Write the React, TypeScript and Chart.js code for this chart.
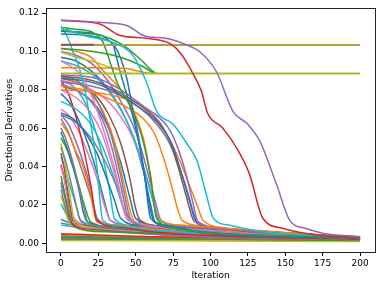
import React, { useEffect, useRef } from "react";
import { Chart, registerables } from "chart.js";
Chart.register(...registerables);

type P = [number, number][];

const xTicks = [0, 25, 50, 75, 100, 125, 150, 175, 200];
const yTicks = [0, 0.02, 0.04, 0.06, 0.08, 0.1, 0.12];

const C = {
  blue: "#1f77b4", orange: "#ff7f0e", green: "#2ca02c", red: "#d62728", purple: "#9467bd",
  brown: "#8c564b", pink: "#e377c2", gray: "#7f7f7f", olive: "#bcbd22", cyan: "#17becf",
};

// special, clearly visible lines
const purpleTop: P = [[0,0.1164],[25,0.1152],[44,0.1135],[56,0.108],[70,0.1068],[82,0.104],[93,0.0997],[104,0.0894],[115,0.0688],[125,0.062],[133,0.0533],[144,0.031],[153,0.012],[164,0.0077],[175,0.0053],[200,0.0034]];
const redTop: P = [[0,0.1161],[26,0.1143],[39,0.1084],[57,0.1068],[73,0.104],[80,0.099],[88,0.0888],[94,0.0791],[98,0.0679],[108,0.0602],[118,0.049],[126,0.0362],[135,0.0131],[148,0.0079],[170,0.0045],[200,0.0031]];
const oliveHigh: P = [[0,0.1033],[200,0.1033]];
const oliveLow: P = [[0,0.0885],[200,0.0885]];
const brownHigh: P = [[0,0.1035],[22,0.1034]];
const cyanTop: P = [[0,0.1126],[15,0.1084],[37,0.104],[48,0.098],[57,0.0843],[64,0.0688],[75,0.062],[85,0.051],[91,0.043],[97,0.026],[102,0.013],[113,0.0094],[135,0.006],[200,0.0034]];
const greenSteep: P = [[0,0.1125],[10,0.1115],[21,0.11],[28,0.105],[33,0.094],[38,0.083],[48,0.0688],[55,0.053],[60,0.034],[64,0.013],[75,0.008],[100,0.0055],[200,0.003]];
const greenMergeA: P = [[0,0.111],[15,0.1095],[26,0.1085],[40,0.104],[50,0.098],[55,0.0945],[60,0.0905],[64,0.0885]];
const greenMergeB: P = [[0,0.1015],[20,0.1001],[35,0.098],[45,0.0955],[55,0.092],[62,0.0885]];
const orangeMerge: P = [[0,0.0915],[20,0.0915],[40,0.0912],[46,0.0908],[50,0.09],[53,0.0895],[58,0.0888],[62,0.0885]];
const oliveMerge: P = [[0,0.0997],[10,0.097],[22,0.0946],[35,0.0911],[42,0.0893],[46,0.0885]];
const blueSteepA: P = [[0,0.1105],[10,0.1102],[21,0.1095],[28,0.108],[33,0.105],[37,0.1014],[41,0.094],[44,0.086],[48,0.07],[52,0.055],[56,0.035],[60,0.013],[70,0.0095],[90,0.0065],[200,0.003]];
const blueSteepB: P = [[0,0.109],[15,0.1085],[30,0.106],[35,0.103],[39,0.091],[44,0.0775],[50,0.06],[55,0.04],[59,0.02],[62,0.012],[75,0.008],[100,0.005],[200,0.0027]];
const cyanFast: P = [[0,0.113],[4,0.108],[8,0.1],[12,0.092],[16,0.08],[20,0.062],[24,0.04],[28,0.012],[40,0.009],[60,0.007],[200,0.0025]];
const pinkA: P = [[0,0.095],[5,0.093],[13,0.088],[20,0.078],[26,0.065],[32,0.05],[38,0.032],[43,0.015],[50,0.011],[70,0.008],[200,0.003]];
const orangeHighA: P = [[0,0.1015],[10,0.1],[20,0.097],[28,0.09],[37,0.0826],[48,0.07],[55,0.055],[60,0.035],[64,0.014],[80,0.0095],[200,0.003]];

// right cluster
const rcPurple: P = [[0,0.0875],[15,0.087],[26,0.0855],[40,0.08],[48,0.0757],[55,0.0715],[66,0.0653],[72,0.06],[78,0.05],[84,0.035],[88,0.022],[92,0.0105],[110,0.0075],[140,0.005],[200,0.003]];
const rcBlue: P = [[0,0.086],[20,0.084],[35,0.0795],[48,0.073],[58,0.0675],[66,0.062],[74,0.052],[80,0.038],[86,0.022],[90,0.012],[105,0.008],[140,0.005],[200,0.003]];
const rcBrown: P = [[0,0.087],[20,0.085],[35,0.0805],[48,0.0745],[58,0.069],[66,0.063],[73,0.053],[79,0.038],[84,0.024],[89,0.0115],[105,0.008],[200,0.003]];
const rcOrange: P = [[0,0.082],[15,0.08],[30,0.076],[45,0.0705],[55,0.065],[62,0.058],[68,0.046],[74,0.03],[78,0.018],[81,0.012],[95,0.009],[120,0.006],[200,0.003]];
const rcOrangeB: P = [[0,0.08],[20,0.079],[40,0.076],[53,0.072],[63,0.064],[72,0.055],[80,0.042],[86,0.03],[91,0.02],[95,0.012],[110,0.008],[200,0.003]];
const rcPurpleB: P = [[0,0.084],[20,0.082],[40,0.077],[53,0.0705],[63,0.063],[72,0.053],[79,0.04],[85,0.026],[89,0.015],[92,0.011],[110,0.0078],[200,0.0032]];

// middle cluster (knee ~45-50)
const mGray: P = [[0,0.088],[10,0.085],[20,0.079],[28,0.068],[34,0.055],[40,0.035],[44,0.02],[47,0.012],[60,0.009],[90,0.006],[200,0.003]];
const mOrange: P = [[0,0.087],[10,0.084],[20,0.078],[28,0.069],[35,0.055],[41,0.035],[46,0.018],[49,0.0115],[65,0.0085],[100,0.0055],[200,0.0028]];
const mPurple: P = [[0,0.083],[10,0.08],[20,0.074],[28,0.064],[34,0.05],[40,0.03],[45,0.014],[55,0.01],[80,0.007],[200,0.003]];
const mBlue: P = [[0,0.068],[8,0.065],[16,0.058],[24,0.047],[30,0.035],[36,0.022],[40,0.013],[55,0.009],[200,0.0028]];
const mPink: P = [[0,0.08],[10,0.076],[20,0.068],[27,0.058],[33,0.044],[39,0.027],[44,0.013],[60,0.009],[200,0.003]];
const mCyan: P = [[0,0.074],[10,0.07],[20,0.062],[28,0.05],[35,0.035],[41,0.02],[45,0.012],[60,0.0088],[200,0.0028]];
const mGrayB: P = [[0,0.067],[10,0.063],[20,0.055],[30,0.042],[38,0.028],[44,0.014],[50,0.011],[70,0.008],[200,0.003]];
const mBrown: P = [[0,0.086],[10,0.084],[22,0.078],[32,0.067],[40,0.052],[46,0.034],[50,0.018],[53,0.012],[70,0.0088],[200,0.003]];
const mBlueB: P = [[0,0.082],[12,0.079],[24,0.071],[33,0.058],[40,0.042],[46,0.024],[50,0.013],[65,0.0092],[200,0.0029]];

// cluster with knee ~60-68
const nCyan: P = [[0,0.095],[12,0.092],[24,0.086],[35,0.076],[45,0.062],[52,0.048],[58,0.032],[63,0.018],[66,0.0115],[90,0.008],[200,0.003]];
const nPink: P = [[0,0.085],[15,0.082],[30,0.075],[40,0.066],[48,0.055],[55,0.04],[61,0.025],[65,0.013],[80,0.0095],[200,0.003]];
const nPurple: P = [[0,0.1],[10,0.098],[20,0.094],[30,0.086],[40,0.074],[50,0.058],[57,0.04],[63,0.022],[67,0.012],[85,0.0085],[200,0.003]];
const nBlue: P = [[0,0.097],[10,0.095],[20,0.09],[30,0.082],[40,0.07],[48,0.056],[55,0.038],[60,0.02],[63,0.011],[80,0.0085],[200,0.003]];

// left cluster (fast drops)
const fRed: P = [[0,0.085],[5,0.078],[10,0.066],[15,0.05],[20,0.03],[24,0.012],[35,0.009],[60,0.006],[200,0.002]];
const fOrange: P = [[0,0.0628],[5,0.057],[10,0.048],[15,0.0395],[20,0.025],[24,0.0111],[40,0.0095],[60,0.0078],[93,0.0053],[200,0.0025]];
const fPurple: P = [[0,0.067],[5,0.062],[10,0.053],[15,0.042],[20,0.028],[24,0.013],[35,0.0095],[200,0.0025]];
const fGray: P = [[0,0.06],[3,0.055],[7,0.045],[11,0.033],[15,0.02],[18,0.011],[30,0.0085],[200,0.0025]];
const fBlue: P = [[0,0.058],[4,0.05],[8,0.04],[12,0.028],[15,0.016],[18,0.011],[40,0.0078],[200,0.0024]];
const fGrayB: P = [[0,0.05],[3,0.043],[6,0.034],[9,0.024],[12,0.014],[14,0.011],[30,0.008],[200,0.002]];
const fOlive: P = [[0,0.052],[2,0.045],[4,0.035],[6,0.025],[8,0.015],[10,0.011],[25,0.008],[200,0.002]];
const fBrown: P = [[0,0.047],[2,0.04],[4,0.03],[6,0.02],[8,0.012],[20,0.009],[200,0.002]];
const fPink: P = [[0,0.04],[2,0.034],[4,0.026],[6,0.017],[8,0.011],[20,0.008],[200,0.002]];
const fCyan: P = [[0,0.045],[3,0.038],[6,0.03],[10,0.02],[13,0.012],[30,0.009],[200,0.002]];
const fRedB: P = [[0,0.041],[2,0.035],[4,0.026],[6,0.016],[8,0.01],[20,0.0075],[200,0.002]];
const fGreen: P = [[0,0.035],[2,0.028],[4,0.02],[6,0.013],[8,0.009],[30,0.006],[200,0.002]];
const fPurpleB: P = [[0,0.032],[2,0.026],[4,0.019],[6,0.012],[10,0.009],[200,0.002]];
const fGrayC: P = [[0,0.028],[2,0.022],[4,0.016],[7,0.011],[15,0.008],[200,0.002]];
const fOliveB: P = [[0,0.025],[2,0.02],[4,0.014],[6,0.01],[20,0.007],[200,0.002]];
const fBlueLow: P = [[0,0.0125],[5,0.011],[15,0.0095],[30,0.008],[60,0.006],[100,0.0045],[200,0.0025]];
const fCyanB: P = [[0,0.0205],[3,0.016],[6,0.012],[15,0.009],[200,0.002]];
const fPinkB: P = [[0,0.03],[3,0.024],[6,0.018],[10,0.012],[20,0.009],[200,0.002]];
const fGrayD: P = [[0,0.065],[5,0.058],[10,0.047],[15,0.036],[20,0.024],[25,0.012],[40,0.009],[200,0.0025]];
const fCyanC: P = [[0,0.085],[8,0.082],[15,0.075],[20,0.066],[27,0.048],[32,0.03],[36,0.0125],[50,0.009],[200,0.003]];
const fPinkC: P = [[0,0.07],[6,0.066],[12,0.058],[18,0.047],[24,0.034],[29,0.02],[33,0.012],[50,0.0088],[200,0.0027]];
const fGreenB: P = [[0,0.055],[4,0.049],[8,0.04],[12,0.03],[16,0.019],[20,0.011],[40,0.008],[200,0.0022]];
const fBlueB: P = [[0,0.078],[6,0.073],[12,0.064],[18,0.052],[24,0.037],[29,0.022],[33,0.012],[50,0.009],[200,0.0028]];

// low flat lines
const gRed: P = [[0,0.005],[20,0.0045],[60,0.0035],[200,0.002]];
const gOrange: P = [[0,0.0045],[30,0.0038],[100,0.0028],[200,0.002]];
const gGreen: P = [[0,0.003],[200,0.0015]];
const gBlue: P = [[0,0.004],[50,0.003],[200,0.002]];
const gOlive: P = [[0,0.0015],[200,0.001]];
const gGray: P = [[0,0.0025],[200,0.0018]];
const gPink: P = [[0,0.0035],[200,0.002]];
const gBrown: P = [[0,0.002],[200,0.0015]];
const gCyan: P = [[0,0.0095],[10,0.0085],[40,0.0065],[100,0.0042],[200,0.0026]];
const gPurple: P = [[0,0.0105],[10,0.0092],[40,0.007],[100,0.0045],[200,0.0028]];

const series: { data: P; color: string; width?: number }[] = [
  { data: purpleTop, color: C.purple },
  { data: redTop, color: C.red },
  { data: cyanTop, color: C.cyan },
  { data: brownHigh, color: C.brown, width: 2 },
  { data: oliveHigh, color: "#b89b3a", width: 2 },
  { data: oliveLow, color: "#a3be2b", width: 2 },
  { data: greenSteep, color: C.green },
  { data: greenMergeA, color: C.green },
  { data: greenMergeB, color: C.green },
  { data: orangeMerge, color: C.orange },
  { data: oliveMerge, color: C.olive },
  { data: blueSteepA, color: C.blue },
  { data: blueSteepB, color: C.blue },
  { data: cyanFast, color: C.cyan },
  { data: pinkA, color: C.pink },
  { data: orangeHighA, color: C.orange },
  { data: rcPurple, color: C.purple },
  { data: rcBlue, color: C.blue },
  { data: rcBrown, color: C.brown },
  { data: rcOrange, color: C.orange },
  { data: rcOrangeB, color: C.orange },
  { data: rcPurpleB, color: C.purple },
  { data: mGray, color: C.gray },
  { data: mOrange, color: C.orange },
  { data: mPurple, color: C.purple },
  { data: mBlue, color: C.blue },
  { data: mPink, color: C.pink },
  { data: mCyan, color: C.cyan },
  { data: mGrayB, color: C.gray },
  { data: mBrown, color: C.brown },
  { data: mBlueB, color: C.blue },
  { data: nCyan, color: C.cyan },
  { data: nPink, color: C.pink },
  { data: nPurple, color: C.purple },
  { data: nBlue, color: C.blue },
  { data: fRed, color: C.red },
  { data: fOrange, color: C.orange },
  { data: fPurple, color: C.purple },
  { data: fGray, color: C.gray },
  { data: fBlue, color: C.blue },
  { data: fGrayB, color: C.gray },
  { data: fOlive, color: C.olive },
  { data: fBrown, color: C.brown },
  { data: fPink, color: C.pink },
  { data: fCyan, color: C.cyan },
  { data: fRedB, color: C.red },
  { data: fGreen, color: C.green },
  { data: fPurpleB, color: C.purple },
  { data: fGrayC, color: C.gray },
  { data: fOliveB, color: C.olive },
  { data: fBlueLow, color: C.blue },
  { data: fCyanB, color: C.cyan },
  { data: fPinkB, color: C.pink },
  { data: fGrayD, color: C.gray },
  { data: fCyanC, color: C.cyan },
  { data: fPinkC, color: C.pink },
  { data: fGreenB, color: C.green },
  { data: fBlueB, color: C.blue },
  { data: gCyan, color: C.cyan },
  { data: gPurple, color: C.purple },
  { data: gRed, color: C.red },
  { data: gOrange, color: C.orange },
  { data: gGreen, color: C.green },
  { data: gBlue, color: C.blue },
  { data: gOlive, color: C.olive },
  { data: gGray, color: C.gray },
  { data: gPink, color: C.pink },
  { data: gBrown, color: C.brown },
];

const FONT = "'DejaVu Sans', sans-serif";

const boxPlugin = {
  id: "box",
  afterDraw(chart: any) {
    const { ctx, chartArea: a } = chart;
    ctx.save();
    ctx.strokeStyle = "#222";
    ctx.lineWidth = 1;
    ctx.strokeRect(Math.round(a.left) + 0.5, Math.round(a.top) + 0.5, Math.round(a.right - a.left), Math.round(a.bottom - a.top));
    ctx.restore();
  },
};

export default function App() {
  const ref = useRef<HTMLCanvasElement>(null);
  useEffect(() => {
    document.body.style.margin = "0";
    const chart = new Chart(ref.current!, {
      type: "line",
      data: {
        datasets: series.map((s) => ({
          data: s.data.map(([x, y]) => ({ x, y })),
          borderColor: s.color,
          backgroundColor: s.color,
          borderWidth: s.width ?? 1.5,
          pointRadius: 0,
          fill: false,
          cubicInterpolationMode: "monotone" as const,
        })),
      },
      options: {
        animation: false,
        responsive: false,
        layout: { padding: { top: 6, right: 7, left: 0, bottom: 0 } },
        plugins: { legend: { display: false }, tooltip: { enabled: false } },
        scales: {
          x: {
            type: "linear",
            min: -10,
            max: 210,
            afterBuildTicks: (s: any) => { s.ticks = xTicks.map((v) => ({ value: v })); },
            afterFit: (s: any) => { s.height = 35; },
            ticks: { autoSkip: false, maxRotation: 0, color: "#000", padding: 2, font: { family: FONT, size: 9 } },
            grid: { drawOnChartArea: false, tickLength: 4, color: "#000" },
            border: { color: "#222" },
            title: { display: true, text: "Iteration", color: "#000", font: { family: FONT, size: 9 }, padding: { top: 0, bottom: 6 } },
          },
          y: {
            type: "linear",
            min: -0.0045,
            max: 0.1224,
            afterBuildTicks: (s: any) => { s.ticks = yTicks.map((v) => ({ value: v })); },
            afterFit: (s: any) => { s.width = 46; },
            ticks: { autoSkip: false, color: "#000", padding: 3, font: { family: FONT, size: 9 }, callback: (v: any) => Number(v).toFixed(2) },
            grid: { drawOnChartArea: false, tickLength: 4, color: "#000" },
            border: { color: "#222" },
            title: { display: true, text: "Directional Derivatives", color: "#000", font: { family: FONT, size: 9 }, padding: { top: 4, bottom: 0 } },
          },
        },
      },
      plugins: [boxPlugin],
    });
    return () => chart.destroy();
  }, []);
  return <canvas ref={ref} width={382} height={287} style={{ display: "block" }} />;
}
